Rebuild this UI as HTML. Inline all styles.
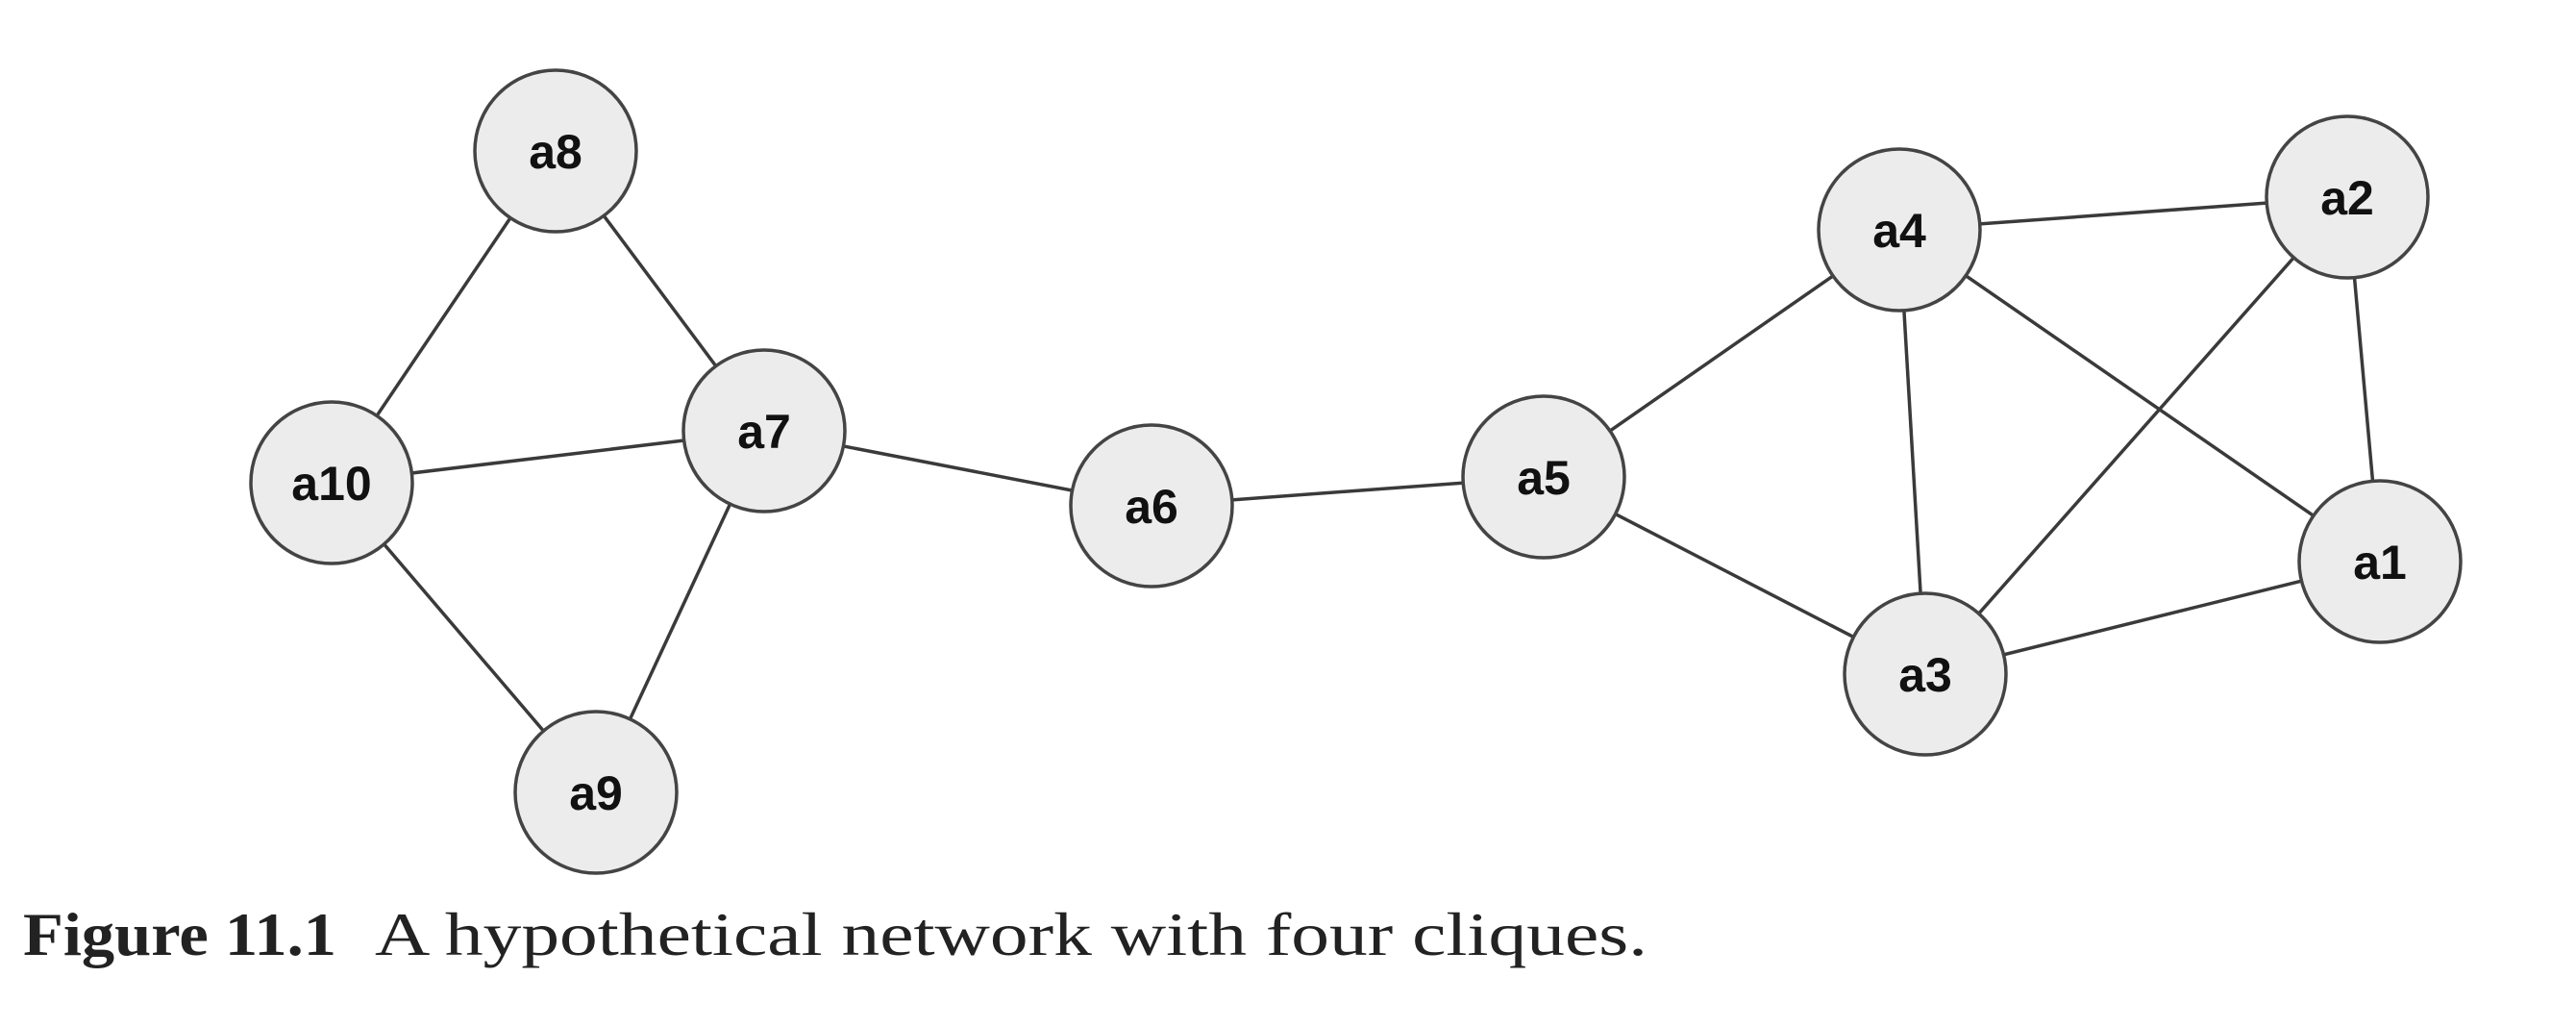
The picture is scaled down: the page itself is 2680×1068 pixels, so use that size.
<!DOCTYPE html>
<html><head><meta charset="utf-8"><style>
html,body{margin:0;padding:0;background:#fff;}
svg{display:block}
</style></head><body>
<svg width="2680" height="1068" viewBox="0 0 2680 1068" xmlns="http://www.w3.org/2000/svg">
<g stroke="#3a3a3a" stroke-width="3.5" fill="none">
<line x1="578" y1="157" x2="345" y2="502"/>
<line x1="578" y1="157" x2="795" y2="448"/>
<line x1="345" y1="502" x2="795" y2="448"/>
<line x1="345" y1="502" x2="620" y2="824"/>
<line x1="795" y1="448" x2="620" y2="824"/>
<line x1="795" y1="448" x2="1198" y2="526"/>
<line x1="1198" y1="526" x2="1606" y2="496"/>
<line x1="1606" y1="496" x2="1976" y2="239"/>
<line x1="1606" y1="496" x2="2003" y2="701"/>
<line x1="1976" y1="239" x2="2442" y2="205"/>
<line x1="1976" y1="239" x2="2003" y2="701"/>
<line x1="1976" y1="239" x2="2476" y2="584"/>
<line x1="2442" y1="205" x2="2476" y2="584"/>
<line x1="2442" y1="205" x2="2003" y2="701"/>
<line x1="2003" y1="701" x2="2476" y2="584"/>
</g>
<g fill="#ececec" stroke="#444" stroke-width="3.5">
<circle cx="578" cy="157" r="84"/>
<circle cx="345" cy="502" r="84"/>
<circle cx="795" cy="448" r="84"/>
<circle cx="620" cy="824" r="84"/>
<circle cx="1198" cy="526" r="84"/>
<circle cx="1606" cy="496" r="84"/>
<circle cx="1976" cy="239" r="84"/>
<circle cx="2442" cy="205" r="84"/>
<circle cx="2476" cy="584" r="84"/>
<circle cx="2003" cy="701" r="84"/>
</g>
<g font-family="Liberation Sans, sans-serif" font-weight="bold" font-size="50" fill="#111" text-anchor="middle">
<text x="578" y="175">a8</text>
<text x="345" y="520">a10</text>
<text x="795" y="466">a7</text>
<text x="620" y="842">a9</text>
<text x="1198" y="544">a6</text>
<text x="1606" y="514">a5</text>
<text x="1976" y="257">a4</text>
<text x="2442" y="223">a2</text>
<text x="2476" y="602">a1</text>
<text x="2003" y="719">a3</text>
</g>
<g font-family="Liberation Serif, serif" font-size="64" fill="#222">
<text x="24" y="993" font-weight="bold" textLength="326" lengthAdjust="spacingAndGlyphs">Figure 11.1</text>
<text x="390" y="993" textLength="1324" lengthAdjust="spacingAndGlyphs">A hypothetical network with four cliques.</text>
</g>
</svg>
</body></html>
